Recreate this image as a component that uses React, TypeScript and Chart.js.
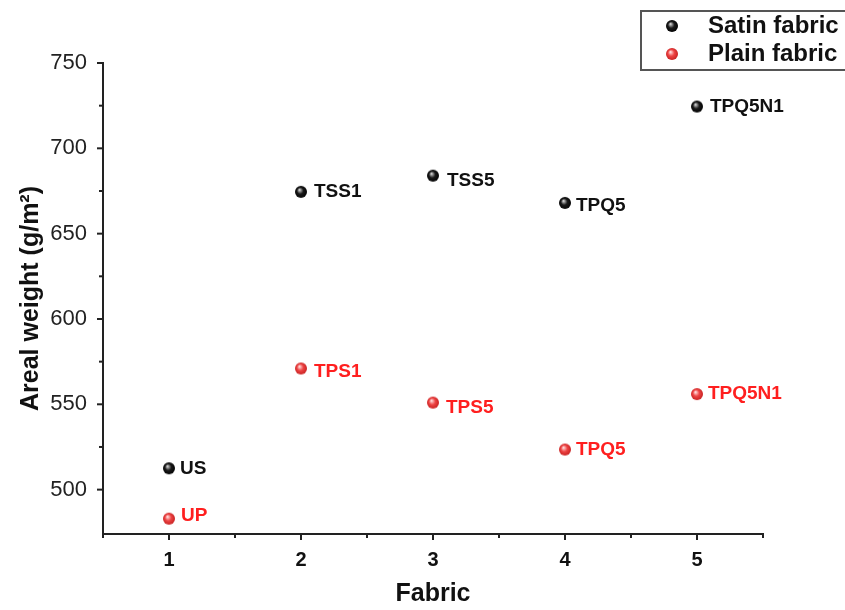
import React, { useEffect, useRef } from "react";
import { Chart, registerables } from "chart.js";

Chart.register(...registerables);

const fabrics = [1, 2, 3, 4, 5];
const satinWeights = [512.5, 674.5, 684, 668, 724.5];
const plainWeights = [483, 571, 551, 523.5, 556];
const satinNames = ["US", "TSS1", "TSS5", "TPQ5", "TPQ5N1"];
const plainNames = ["UP", "TPS1", "TPS5", "TPQ5", "TPQ5N1"];
const seriesNames = ["Satin fabric", "Plain fabric"];
const xTickValues = [0.5, 1, 1.5, 2, 2.5, 3, 3.5, 4, 4.5, 5, 5.5];
const yTickValues = [500, 525, 550, 575, 600, 625, 650, 675, 700, 725, 750];

// label offsets (style)
const satinOffsets = [[11, 0], [13, 0], [14, 5], [11, 3], [13, 0]];
const plainOffsets = [[12, -3], [13, 3], [13, 5], [11, 0], [11, 0]];

const FONT = "'Liberation Sans', Arial, sans-serif";

function makeSphere(base: string, light: string, dark: string) {
  const c = document.createElement("canvas");
  c.width = 14;
  c.height = 14;
  const ctx = c.getContext("2d")!;
  const g = ctx.createRadialGradient(5.5, 5, 0.5, 7, 7, 6.5);
  g.addColorStop(0, light);
  g.addColorStop(0.45, base);
  g.addColorStop(1, dark);
  ctx.fillStyle = g;
  ctx.beginPath();
  ctx.arc(7, 7, 6, 0, Math.PI * 2);
  ctx.fill();
  return c;
}

export default function App() {
  const ref = useRef<HTMLCanvasElement>(null);
  useEffect(() => {
    const blackSphere = makeSphere("#1a1a1a", "#c8c8c8", "#000000");
    const redSphere = makeSphere("#ee4444", "#ffd6d6", "#c41e1e");

    const labelPlugin = {
      id: "pointLabels",
      afterDatasetsDraw(chart: any) {
        const ctx = chart.ctx;
        ctx.save();
        ctx.font = `bold 19px ${FONT}`;
        ctx.textBaseline = "middle";
        ctx.textAlign = "left";
        const defs = [
          { names: satinNames, offs: satinOffsets, color: "#111111" },
          { names: plainNames, offs: plainOffsets, color: "#ff1f1f" },
        ];
        defs.forEach((d, di) => {
          const meta = chart.getDatasetMeta(di);
          meta.data.forEach((pt: any, i: number) => {
            ctx.fillStyle = d.color;
            ctx.fillText(d.names[i], pt.x + d.offs[i][0], pt.y + d.offs[i][1]);
          });
        });
        ctx.restore();
      },
      afterDraw(chart: any) {
        const ctx = chart.ctx;
        const xs = chart.scales.x;
        const ys = chart.scales.y;
        const area = chart.chartArea;
        ctx.save();
        ctx.strokeStyle = "#222";
        ctx.lineWidth = 2;
        xTickValues.forEach((v) => {
          const px = xs.getPixelForValue(v);
          const len = Number.isInteger(v) ? 6 : 4;
          ctx.beginPath();
          ctx.moveTo(px, area.bottom);
          ctx.lineTo(px, area.bottom + len);
          ctx.stroke();
        });
        yTickValues.forEach((v) => {
          const py = ys.getPixelForValue(v);
          const len = v % 50 === 0 ? 6 : 4;
          ctx.beginPath();
          ctx.moveTo(area.left, py);
          ctx.lineTo(area.left - len, py);
          ctx.stroke();
        });
        // legend box
        ctx.strokeStyle = "#555";
        ctx.lineWidth = 2;
        ctx.strokeRect(641, 11, 210, 59);
        ctx.drawImage(blackSphere, 672 - 7, 26 - 7);
        ctx.drawImage(redSphere, 672 - 7, 54 - 7);
        ctx.font = `bold 24px ${FONT}`;
        ctx.fillStyle = "#111";
        ctx.textBaseline = "middle";
        ctx.textAlign = "left";
        ctx.fillText(seriesNames[0], 708, 26);
        ctx.fillText(seriesNames[1], 708, 54);
        ctx.restore();
      },
    };

    const chart = new Chart(ref.current!, {
      type: "scatter",
      data: {
        datasets: [
          {
            label: seriesNames[0],
            data: fabrics.map((x, i) => ({ x, y: satinWeights[i] })),
            pointStyle: blackSphere as any,
            pointRadius: 6,
            backgroundColor: "#111",
            borderColor: "#111",
          },
          {
            label: seriesNames[1],
            data: fabrics.map((x, i) => ({ x, y: plainWeights[i] })),
            pointStyle: redSphere as any,
            pointRadius: 6,
            backgroundColor: "#ee4444",
            borderColor: "#ee4444",
          },
        ],
      },
      options: {
        animation: false,
        responsive: true,
        maintainAspectRatio: false,
        layout: { padding: { top: 63, right: 82, left: 0, bottom: 0 } },
        plugins: {
          legend: { display: false },
          tooltip: { enabled: false },
        },
        scales: {
          x: {
            type: "linear",
            min: 0.5,
            max: 5.5,
            afterFit: (s: any) => {
              s.height = 76;
            },
            afterBuildTicks: (s: any) => {
              s.ticks = xTickValues.map((v) => ({ value: v }));
            },
            grid: {
              display: true,
              drawOnChartArea: false,
              drawTicks: true,
              tickLength: 6,
              tickColor: "rgba(0,0,0,0)",
            },
            border: { display: true, color: "#222", width: 2 },
            ticks: {
              autoSkip: false,
              maxRotation: 0,
              padding: 8,
              color: "#111",
              font: { family: FONT, size: 20, weight: "bold" },
              callback: (v: any) => (Number.isInteger(v) ? String(v) : ""),
            },
            title: {
              display: true,
              text: "Fabric",
              color: "#111",
              font: { family: FONT, size: 25, weight: "bold" },
              padding: { top: 0, bottom: 1 },
            },
          },
          y: {
            type: "linear",
            min: 474,
            max: 750,
            afterFit: (s: any) => {
              s.width = 103;
            },
            afterBuildTicks: (s: any) => {
              s.ticks = yTickValues.map((v) => ({ value: v }));
            },
            grid: {
              display: true,
              drawOnChartArea: false,
              drawTicks: true,
              tickLength: 6,
              tickColor: "rgba(0,0,0,0)",
            },
            border: { display: true, color: "#222", width: 2 },
            ticks: {
              autoSkip: false,
              padding: 10,
              color: "#222",
              font: { family: FONT, size: 22 },
              callback: (v: any) => (v % 50 === 0 ? String(v) : ""),
            },
            title: {
              display: true,
              text: "Areal weight (g/m²)",
              color: "#111",
              font: { family: FONT, size: 25, weight: "bold" },
              padding: { top: 16, bottom: 0 },
            },
          },
        },
      } as any,
      plugins: [labelPlugin],
    });
    return () => chart.destroy();
  }, []);

  return (
    <div style={{ position: "absolute", left: 0, top: 0, width: 845, height: 610, background: "#fff" }}>
      <canvas ref={ref} />
    </div>
  );
}
